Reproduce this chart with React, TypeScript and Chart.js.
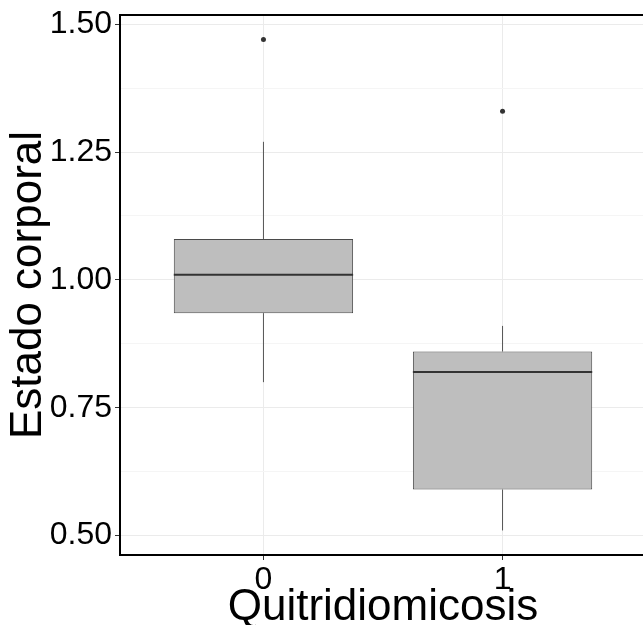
import React, { useEffect, useRef } from "react";
import { Chart, registerables } from "chart.js";

Chart.register(...registerables);

const categories = ["0", "1"];
const categoryPositions = [0, 1];
const q1Values = [0.935, 0.59];
const medianValues = [1.01, 0.82];
const q3Values = [1.08, 0.86];
const whiskerLow = [0.8, 0.51];
const whiskerHigh = [1.27, 0.91];
const outlierValues = [[1.47], [1.33]];
const yMajorTicks = [0.5, 0.75, 1.0, 1.25, 1.5];
const yMinorTicks = [0.625, 0.875, 1.125, 1.375];

const FONT = "'Liberation Sans', Arial, Helvetica, sans-serif";
const BOX_HALF = 0.375;

const panelBorder = {
  id: "panelBorder",
  afterDatasetsDraw(chart: any) {
    const { ctx, chartArea } = chart;
    ctx.save();
    ctx.strokeStyle = "#000";
    ctx.lineWidth = 2;
    ctx.strokeRect(chartArea.left, chartArea.top, chartArea.right - chartArea.left, chartArea.bottom - chartArea.top);
    ctx.restore();
  },
};

export default function App() {
  const ref = useRef<HTMLCanvasElement | null>(null);
  useEffect(() => {
    if (!ref.current) return;
    const datasets: any[] = [];
    categoryPositions.forEach((x, i) => {
      datasets.push({
        type: "line",
        data: [{ x, y: q3Values[i] }, { x, y: whiskerHigh[i] }],
        borderColor: "#555",
        borderWidth: 1,
        pointRadius: 0,
        order: 3,
      });
      datasets.push({
        type: "line",
        data: [{ x, y: whiskerLow[i] }, { x, y: q1Values[i] }],
        borderColor: "#555",
        borderWidth: 1,
        pointRadius: 0,
        order: 3,
      });
    });
    datasets.push({
      type: "bar",
      data: categoryPositions.map((x, i) => ({ x, y: [q1Values[i], q3Values[i]] })),
      backgroundColor: "#bebebe",
      borderColor: "#4a4a4a",
      borderWidth: 1,
      borderSkipped: false,
      categoryPercentage: 1,
      barPercentage: 0.75,
      order: 2,
    });
    categoryPositions.forEach((x, i) => {
      datasets.push({
        type: "line",
        data: [
          { x: x - BOX_HALF, y: medianValues[i] },
          { x: x + BOX_HALF, y: medianValues[i] },
        ],
        borderColor: "#333",
        borderWidth: 2,
        pointRadius: 0,
        order: 1,
      });
    });
    datasets.push({
      type: "line",
      data: categoryPositions.flatMap((x, i) => outlierValues[i].map((v) => ({ x, y: v }))),
      showLine: false,
      pointRadius: 2.5,
      pointBackgroundColor: "#333",
      pointBorderWidth: 0,
      order: 0,
    });

    const chart = new Chart(ref.current, {
      type: "bar",
      data: { datasets },
      plugins: [panelBorder],
      options: {
        animation: false,
        responsive: false,
        devicePixelRatio: 1,
        layout: { padding: { top: 15, right: 2, left: 0, bottom: 0 } },
        plugins: { legend: { display: false }, tooltip: { enabled: false } },
        scales: {
          x: {
            type: "linear",
            min: -0.6,
            max: 1.6,
            offset: false,
            afterBuildTicks: (scale: any) => {
              scale.ticks = categoryPositions.map((v) => ({ value: v }));
            },
            afterFit: (scale: any) => {
              scale.height = 70;
              scale.paddingLeft = 0;
              scale.paddingRight = 0;
            },
            ticks: {
              callback: (v: any) => categories[categoryPositions.indexOf(Number(v))] ?? "",
              font: { family: FONT, size: 32 },
              color: "#000",
              padding: 1,
              maxRotation: 0,
              autoSkip: false,
            },
            grid: {
              offset: false,
              color: "#ebebeb",
              lineWidth: 1,
              tickLength: 5,
              tickColor: "#333",
            },
            border: { display: false },
            title: {
              display: true,
              text: "Quitridiomicosis",
              font: { family: FONT, size: 44, lineHeight: 0.78 },
              color: "#000",
              padding: { top: 0, bottom: 0 },
            },
          },
          y: {
            type: "linear",
            min: 0.462,
            max: 1.518,
            afterBuildTicks: (scale: any) => {
              scale.ticks = [...yMajorTicks, ...yMinorTicks]
                .sort((a, b) => a - b)
                .map((v) => ({ value: v }));
            },
            afterFit: (scale: any) => {
              scale.width = 120;
              scale.paddingTop = 0;
              scale.paddingBottom = 0;
            },
            ticks: {
              callback: (v: any) => (yMajorTicks.includes(Number(v)) ? Number(v).toFixed(2) : ""),
              font: { family: FONT, size: 32 },
              color: "#000",
              padding: 3,
              autoSkip: false,
            },
            grid: {
              color: (ctx: any) => (yMajorTicks.includes(ctx.tick?.value) ? "#ebebeb" : "#f5f5f5"),
              lineWidth: 1,
              tickLength: 5,
              tickColor: (ctx: any) => (yMajorTicks.includes(ctx.tick?.value) ? "#333" : "rgba(0,0,0,0)"),
            },
            border: { display: false },
            title: {
              display: true,
              text: "Estado corporal",
              font: { family: FONT, size: 44 },
              color: "#000",
              padding: { top: 2, bottom: 0 },
            },
          },
        },
      },
    } as any);
    return () => chart.destroy();
  }, []);

  return (
    <div style={{ position: "absolute", left: 0, top: 0, width: 643, height: 625, overflow: "hidden", background: "#fff" }}>
      <canvas ref={ref} width={650} height={625} style={{ width: 650, height: 625, display: "block" }} />
    </div>
  );
}
